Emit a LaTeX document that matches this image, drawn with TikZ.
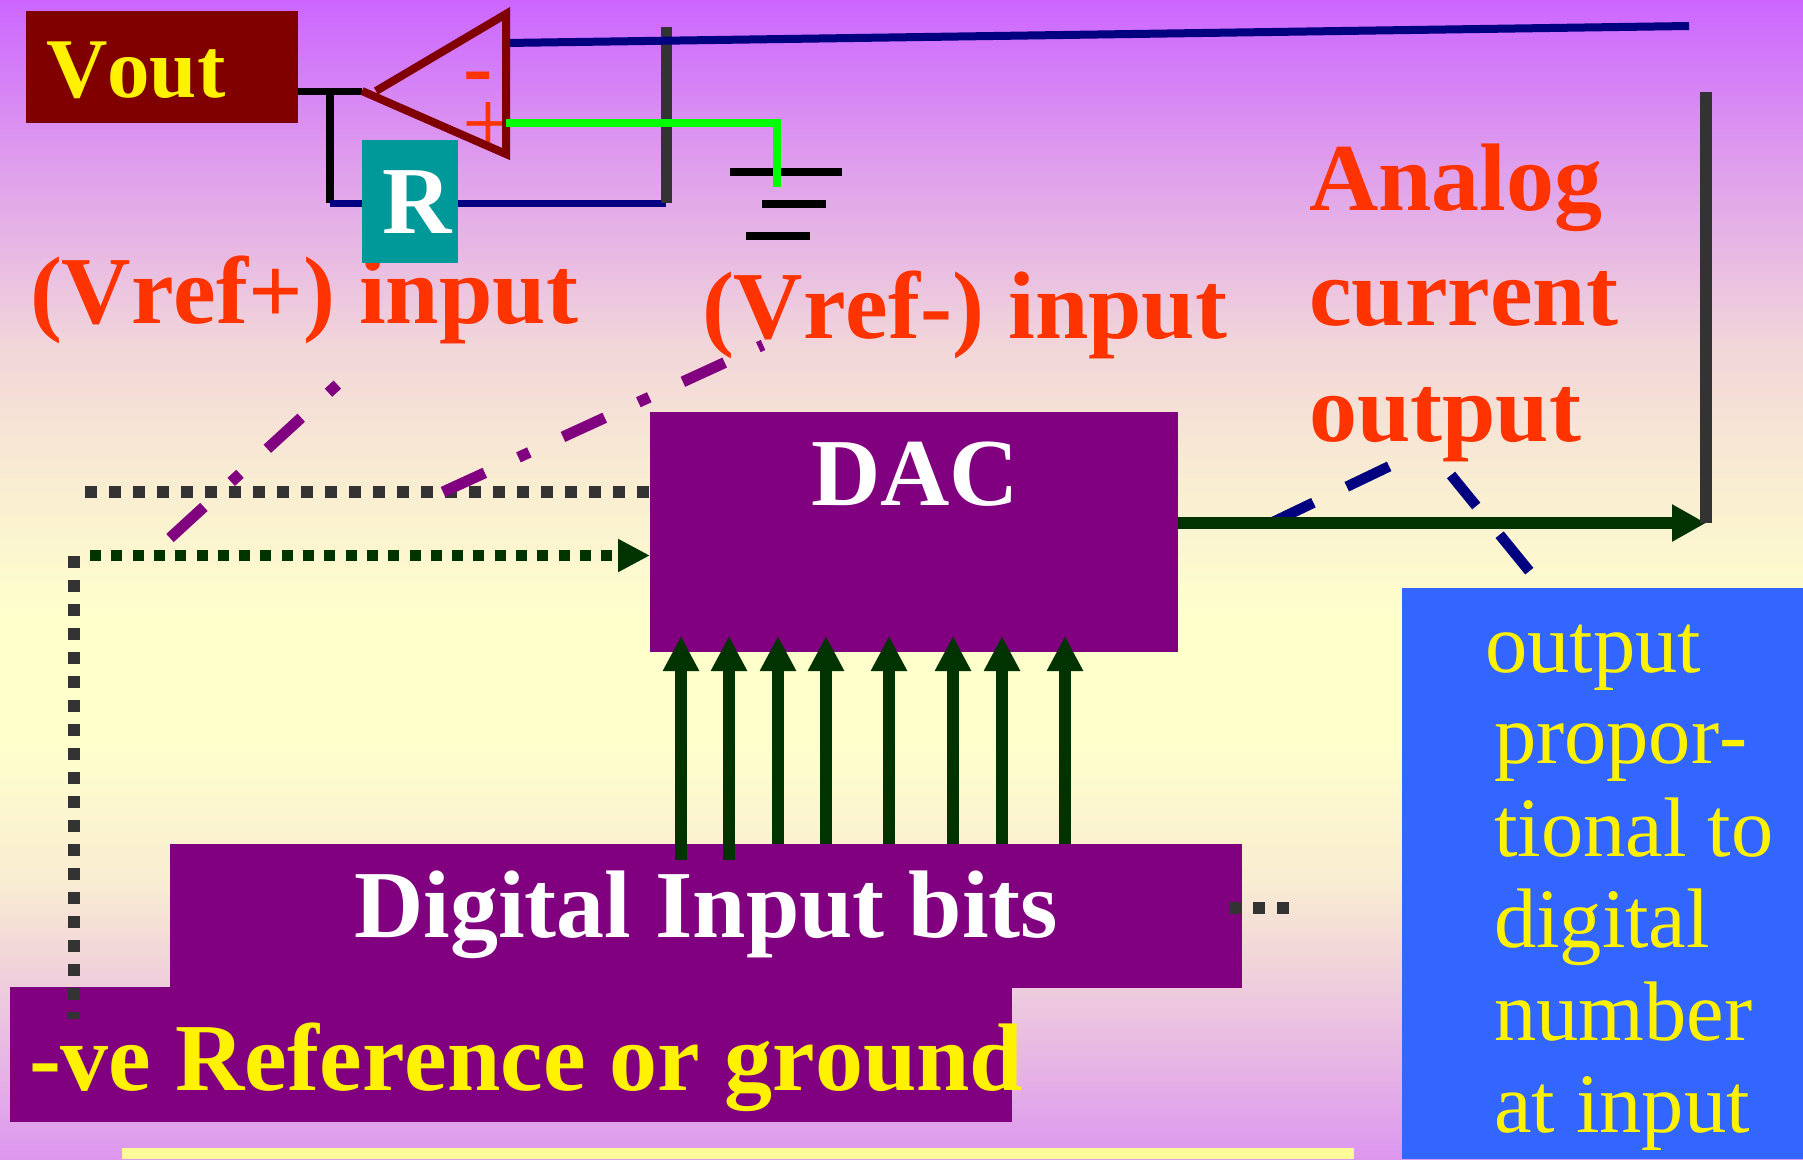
\documentclass[tikz,border=0pt]{standalone}
\usepackage{fontspec}
\setmainfont[Kerning=Off]{Liberation Serif}
\usetikzlibrary{arrows.meta,shadings}
\definecolor{bgpurple}{RGB}{204,102,255}
\definecolor{bgpale}{RGB}{255,255,204}
\definecolor{boxpurple}{RGB}{128,0,128}
\definecolor{boxteal}{RGB}{0,153,153}
\definecolor{boxblue}{RGB}{51,102,255}
\definecolor{boxmaroon}{RGB}{128,0,0}
\definecolor{labelred}{RGB}{255,51,0}
\definecolor{wiregray}{RGB}{51,51,51}
\definecolor{wiregreen}{RGB}{0,51,0}
\definecolor{wirenavy}{RGB}{0,0,128}
\pgfdeclareverticalshading{slidebg}{100bp}{
    color(0bp)=(bgpurple!68!bgpale);
    color(25bp)=(bgpurple!68!bgpale);
    color(32.4bp)=(bgpurple!33!bgpale);
    color(37bp)=(bgpurple!12!bgpale);
    color(43.1bp)=(bgpale);
    color(48.3bp)=(bgpale);
    color(54.3bp)=(bgpurple!12!bgpale);
    color(60.1bp)=(bgpurple!27!bgpale);
    color(67.6bp)=(bgpurple!62!bgpale);
    color(75bp)=(bgpurple);
    color(100bp)=(bgpurple)}
\tikzset{
    box/.style={inner sep=0pt, outer sep=0pt},
    lab/.style={inner sep=0pt, outer sep=0pt, anchor=base west, font=\fontsize{96}{96}\selectfont\bfseries},
    bluelab/.style={inner sep=0pt, outer sep=0pt, anchor=base west, text=yellow, font=\fontsize{84.5}{84.5}\selectfont},
    graydots/.style={wiregray, line width=12pt, dash pattern=on 12pt off 12pt},
    greendots/.style={wiregreen, line width=11pt, dash pattern=on 11pt off 10.3pt},
    pointer/.style={boxpurple, line width=11pt, dash pattern=on 46pt off 37pt on 12pt off 37pt},
    navydash/.style={wirenavy, line width=10.5pt, dash pattern=on 47pt off 37pt},
    bit/.style={wiregreen, line width=12pt, -{Triangle[length=35pt,width=34pt]}},
    bar/.style={black, line width=8pt}
}
\begin{document}
\begin{tikzpicture}[x=1pt,y=-1pt]
    \useasboundingbox (0,0) rectangle (1803,1159);
    \shade[shading=slidebg] (0,0) rectangle (1803,1159);
    % boxes
    \path node[box, fill=boxpurple, minimum width=528pt, minimum height=240pt, anchor=north west] (DAC) at (650,412) {}
        node[box, fill=boxblue, minimum width=401pt, minimum height=571pt, anchor=north west] (note) at (1402,588) {}
        node[box, fill=boxmaroon, minimum width=272pt, minimum height=112pt, anchor=north west] (vout) at (26,11) {};
    \node[box, fill=yellow!40!white, minimum width=1232pt, minimum height=11pt, anchor=north west] (strip) at (122,1148) {};
    % coordinates on the wires
    \path coordinate (fbtop) at (330,91)
        coordinate (fbbot) at (330,203)
        coordinate (railtop) at (666,27)
        coordinate (railbot) at (666,203)
        coordinate (tip) at (362,91)
        coordinate (tiptop) at (376,91)
        coordinate (oppt) at (506,14)
        coordinate (oppb) at (506,154)
        coordinate (inn) at (506,43)
        coordinate (innend) at (1689,26)
        coordinate (inp) at (506,123)
        coordinate (gndtop) at (777,123)
        coordinate (gndbot) at (777,187);
    % bits behind the lower box
    \foreach \xbit in {778,826,889,953,1002,1065}
        \draw[bit] (\xbit,860) -- (\xbit,636);
    \node[box, fill=boxpurple, minimum width=1072pt, minimum height=144pt, anchor=north west] (bits) at (170,844) {};
    \node[box, fill=boxpurple, minimum width=1002pt, minimum height=135pt, anchor=north west] (ref) at (10,987) {};
    \foreach \xbit in {681,729}
        \draw[bit] (\xbit,860) -- (\xbit,636);
    % op amp
    \draw[black, line width=7pt] (vout.east |- fbtop) -- (tip);
    \draw[black, line width=8pt] (fbtop) -- (fbbot);
    \draw[wirenavy, line width=7pt] (fbbot) -- (railbot);
    \draw[wiregray, line width=11pt] (railtop) -- (railbot);
    \draw[wirenavy, line width=8pt] (inn) -- (innend);
    \path node[lab, text=labelred, font=\fontsize{88}{88}\selectfont\bfseries] (minus) at (463,96) {-}
        node[lab, text=labelred, font=\fontsize{92}{92}\selectfont] (plus) at (462,154) {+};
    \draw[boxmaroon, line width=8pt] (tiptop) -- (oppt) -- (oppb) -- (tip);
    % ground
    \path coordinate (g1a) at (730,172) coordinate (g1b) at (842,172)
        coordinate (g2a) at (762,204) coordinate (g2b) at (826,204)
        coordinate (g3a) at (746,236) coordinate (g3b) at (810,236);
    \draw[bar] (g1a) -- (g1b);
    \draw[bar] (g2a) -- (g2b);
    \draw[bar] (g3a) -- (g3b);
    \draw[green, line width=8pt] (inp) -| (gndbot);
    % labels
    \path node[lab, text=labelred] (vrefp) at (30,323) {(Vref+) input}
        node[lab, text=labelred] (vrefm) at (702,338) {(Vref-) input}
        node[lab, text=labelred] (analog) at (1309,210) {Analog}
        node[lab, text=labelred] (current) at (1309,325) {current}
        node[lab, text=labelred] (output) at (1309,441) {output};
    \node[box, fill=boxteal, minimum width=96pt, minimum height=123pt, anchor=north west] (R) at (362,140) {};
    \path node[lab, text=white] at (382,233) {R}
        node[lab, text=yellow, font=\fontsize{85}{85}\selectfont\bfseries] at (46,97) {Vout}
        node[lab, text=white] at (811,505) {DAC}
        node[lab, text=white] at (354,937) {Digital Input bits}
        node[lab, text=yellow] at (29,1090) {-ve Reference or ground};
    % text in the blue box
    \foreach \txt/\xpos/\ypos in {output/1485/672, propor-/1494/763, tional to/1494/856, digital/1494/947, number/1494/1040, at input/1494/1132}
        \node[bluelab] at (\xpos,\ypos) {\txt};
    % signal lines
    \path coordinate (gdl) at (85,491.5)
        coordinate (gfl) at (90,555.5)
        coordinate (gcorner) at (73.5,556)
        coordinate (gbot) at (73.5,1019)
        coordinate (gds) at (1229,908)
        coordinate (gde) at (1290,908)
        coordinate (rightrail) at (1706,92)
        coordinate (outend) at (1706,523);
    \draw[graydots] (gcorner) -- (gbot);
    \draw[graydots] (gdl) -- (DAC.west |- gdl);
    \draw[greendots, -{Triangle[length=32pt,width=31pt]}] (gfl) -- (DAC.west |- gfl);
    \draw[graydots] (gds) -- (gde);
    \draw[navydash] (1271,523) -- (1392,465);
    \draw[navydash, dash phase=7pt] (1451,475) -- (1530,572);
    \draw[wiregreen, line width=12pt, -{Triangle[length=34pt,width=35pt]}] (DAC.east |- outend) -- (outend);
    \draw[wiregray, line width=11.5pt] (rightrail) -- (outend);
    \draw[pointer] (170,538) -- (338,384);
    \draw[pointer] (443,492) -- (763,345);
\end{tikzpicture}
\end{document}
